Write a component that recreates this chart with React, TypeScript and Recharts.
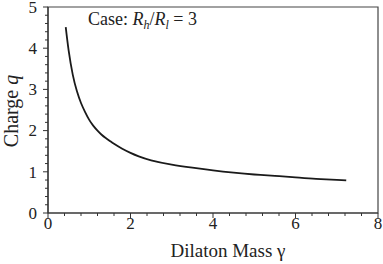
import React from "react";
import { LineChart, Line, XAxis, YAxis, ReferenceArea } from "recharts";

const gamma = [0.43, 0.5, 0.6, 0.7, 0.8, 0.9, 1.0, 1.1, 1.2, 1.3, 1.4, 1.5, 1.6, 1.8, 2.0, 2.2, 2.5, 3.0, 3.5, 4.0, 4.5, 5.0, 5.5, 6.0, 6.5, 7.0, 7.23];
const charge = [4.51, 3.95, 3.36, 2.96, 2.67, 2.45, 2.26, 2.115, 2.0, 1.9, 1.82, 1.75, 1.68, 1.56, 1.46, 1.375, 1.28, 1.175, 1.1, 1.035, 0.98, 0.935, 0.9, 0.865, 0.83, 0.805, 0.79];

const xTicks = [0, 0.4, 0.8, 1.2, 1.6, 2, 2.4, 2.8, 3.2, 3.6, 4, 4.4, 4.8, 5.2, 5.6, 6, 6.4, 6.8, 7.2, 7.6, 8];
const xMajor = [0, 2, 4, 6, 8];
const yTicks = [0, 0.2, 0.4, 0.6, 0.8, 1, 1.2, 1.4, 1.6, 1.8, 2, 2.2, 2.4, 2.6, 2.8, 3, 3.2, 3.4, 3.6, 3.8, 4, 4.2, 4.4, 4.6, 4.8, 5];
const yMajor = [0, 1, 2, 3, 4, 5];

const data = gamma.map((g, i) => ({ g, q: charge[i] }));

const FONT = "Liberation Serif, Times New Roman, Times, DejaVu Serif, serif";
const AXIS = "#333";
const TEXT = "#222";
const fontStyle = { fontFamily: FONT };

const isIn = (arr: number[], v: number) => arr.some((m) => Math.abs(m - v) < 1e-9);

const XTick = (props: any) => {
  const { x, y, payload } = props;
  const major = isIn(xMajor, payload.value);
  return (
    <g>
      <line x1={x} x2={x} y1={y} y2={y + (major ? 5 : 3)} stroke={AXIS} strokeWidth={1} />
      {major && (
        <text x={x} y={y + 16} textAnchor="middle" fontSize={17} style={fontStyle} fill={TEXT}>
          {Math.round(payload.value)}
        </text>
      )}
    </g>
  );
};

const YTick = (props: any) => {
  const { x, y, payload } = props;
  const major = isIn(yMajor, payload.value);
  return (
    <g>
      <line x1={x} x2={x - (major ? 5 : 3)} y1={y} y2={y} stroke={AXIS} strokeWidth={1} />
      {major && (
        <text x={x - 11} y={y} dy="0.34em" textAnchor="end" fontSize={17} style={fontStyle} fill={TEXT}>
          {Math.round(payload.value)}
        </text>
      )}
    </g>
  );
};

const XTitle = (props: any) => {
  const vb = props.viewBox || {};
  return (
    <text x={vb.x + vb.width / 2 + 15} y={vb.y + 44} textAnchor="middle" fontSize={19} style={fontStyle} fill={TEXT}>
      Dilaton Mass γ
    </text>
  );
};

const YTitle = (props: any) => {
  const vb = props.viewBox || {};
  const cx = vb.x + 18;
  const cy = vb.y + vb.height / 2 + 1;
  return (
    <text x={cx} y={cy} transform={`rotate(-90 ${cx} ${cy})`} textAnchor="middle" fontSize={20} style={fontStyle} fill={TEXT}>
      Charge <tspan fontStyle="italic">q</tspan>
    </text>
  );
};

const CaseLabel = (props: any) => {
  const vb = props.viewBox || {};
  return (
    <text x={vb.x + 40} y={vb.y + 18} fontSize={18} style={fontStyle} fill={TEXT}>
      Case: <tspan fontStyle="italic">R</tspan>
      <tspan fontStyle="italic" fontSize={12} dy={4}>h</tspan>
      <tspan dy={-4}>/</tspan>
      <tspan fontStyle="italic">R</tspan>
      <tspan fontStyle="italic" fontSize={12} dy={4}>l</tspan>
      <tspan dy={-4}> = 3</tspan>
    </text>
  );
};

export default function App() {
  return (
    <div style={{ position: "fixed", left: 0, top: 0, width: 383, height: 264, background: "#fff" }}>
      <LineChart width={383} height={264} data={data} margin={{ top: 7, right: 5, bottom: 0, left: 0 }}>
        <XAxis
          dataKey="g"
          type="number"
          domain={[0, 8]}
          ticks={xTicks}
          interval={0}
          tickSize={0}
          tickMargin={0}
          tickLine={false}
          tick={<XTick />}
          axisLine={{ stroke: AXIS, strokeWidth: 1.2 }}
          height={51}
          label={{ content: <XTitle /> }}
        />
        <YAxis
          type="number"
          domain={[0, 5]}
          ticks={yTicks}
          interval={0}
          tickSize={0}
          tickMargin={0}
          tickLine={false}
          tick={<YTick />}
          axisLine={{ stroke: AXIS, strokeWidth: 1.2 }}
          width={48}
          label={{ content: <YTitle /> }}
        />
        <ReferenceArea
          x1={0}
          x2={8}
          y1={0}
          y2={5}
          fill="none"
          fillOpacity={0}
          stroke="#444"
          strokeWidth={1.2}
          label={{ content: <CaseLabel /> }}
        />
        <Line
          dataKey="q"
          type="natural"
          stroke="#1a1a1a"
          strokeWidth={1.8}
          dot={false}
          isAnimationActive={false}
        />
      </LineChart>
    </div>
  );
}
